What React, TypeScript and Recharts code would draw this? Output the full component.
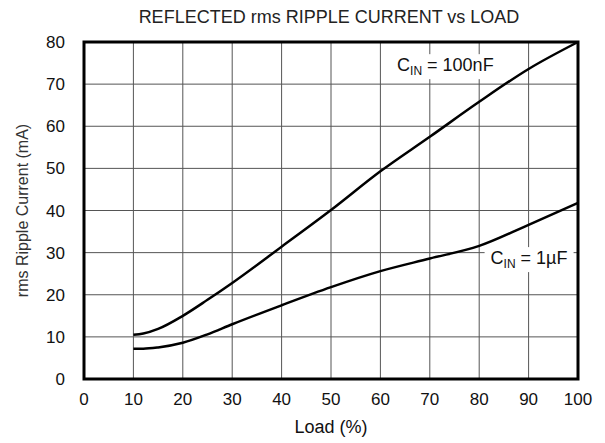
import { LineChart, Line, XAxis, YAxis, CartesianGrid, ReferenceArea, ReferenceDot, Label } from "recharts";

const LOAD = [10, 12, 15, 20, 25, 30, 40, 50, 60, 70, 80, 90, 100];
const RIPPLE_100NF = [10.5, 10.8, 11.9, 15, 18.8, 22.8, 31.4, 40.1, 49.3, 57.5, 65.8, 73.6, 80];
const RIPPLE_1UF = [7.2, 7.2, 7.5, 8.6, 10.6, 13, 17.5, 21.8, 25.6, 28.6, 31.6, 36.6, 41.8];
const X_TICKS = [0, 10, 20, 30, 40, 50, 60, 70, 80, 90, 100];
const Y_TICKS = [0, 10, 20, 30, 40, 50, 60, 70, 80];

const FONT = "'Liberation Sans', Arial, sans-serif";

const data = LOAD.map((x, i) => ({ load: x, nf100: RIPPLE_100NF[i], uf1: RIPPLE_1UF[i] }));

function CinLabel({ viewBox, value, w }: any) {
    const cx = viewBox.x;
    const cy = viewBox.y;
    return (
        <g>
            <rect x={cx - w / 2} y={cy - 11} width={w} height={25} fill="#fff" />
            <text x={cx - w / 2 + 6} y={cy + 6} fontSize={18} fontFamily={FONT} fill="#111">
                C<tspan fontSize={12} dy={4}>IN</tspan>
                <tspan dy={-4}>{` = ${value}`}</tspan>
            </text>
        </g>
    );
}

function YTitle({ viewBox }: any) {
    const x = 28;
    const y = viewBox.y + viewBox.height / 2;
    return (
        <text x={x} y={y} transform={`rotate(-90, ${x}, ${y})`} textAnchor="middle" fontSize={16} fontFamily={FONT} fill="#333">
            rms Ripple Current (mA)
        </text>
    );
}

export default function App() {
    return (
        <div style={{ position: "absolute", left: 0, top: 0, width: 605, height: 443, background: "#fff", fontFamily: FONT }}>
            <div style={{ position: "absolute", left: 0, width: 658, top: 7, textAlign: "center", fontSize: 18, color: "#222" }}>
                REFLECTED rms RIPPLE CURRENT vs LOAD
            </div>
            <LineChart width={605} height={443} data={data} margin={{ top: 42, right: 27, bottom: 34, left: 24 }}>
                <CartesianGrid stroke="#555" strokeWidth={1} horizontalValues={Y_TICKS} verticalValues={X_TICKS} />
                <XAxis
                    dataKey="load"
                    type="number"
                    domain={[0, 100]}
                    ticks={X_TICKS}
                    height={30}
                    tickLine={false}
                    axisLine={false}
                    tickMargin={8}
                    tick={{ fontSize: 17, fill: "#111", fontFamily: FONT }}
                    interval={0}
                >
                    <Label value="Load (%)" position="insideBottom" offset={-24} style={{ fontSize: 18, fill: "#111", fontFamily: FONT }} />
                </XAxis>
                <YAxis
                    type="number"
                    domain={[0, 80]}
                    ticks={Y_TICKS}
                    width={60}
                    tickLine={false}
                    axisLine={false}
                    tickMargin={13}
                    tick={{ fontSize: 17, fill: "#111", fontFamily: FONT }}
                    interval={0}
                >
                    <Label content={<YTitle />} />
                </YAxis>
                <ReferenceArea x1={0} x2={100} y1={0} y2={80} fill="none" stroke="#000" strokeWidth={3} ifOverflow="visible" />
                <Line type="monotone" dataKey="nf100" stroke="#000" strokeWidth={2.5} dot={false} isAnimationActive={false} />
                <Line type="monotone" dataKey="uf1" stroke="#000" strokeWidth={2.5} dot={false} isAnimationActive={false} />
                <ReferenceDot x={73.5} y={74.5} r={0} ifOverflow="visible" label={<CinLabel value="100nF" w={112} />} />
                <ReferenceDot x={90.1} y={28.7} r={0} ifOverflow="visible" label={<CinLabel value="1µF" w={89} />} />
            </LineChart>
        </div>
    );
}
